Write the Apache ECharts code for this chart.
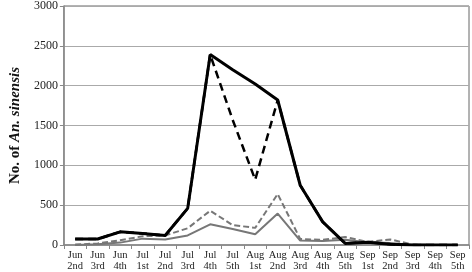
<!DOCTYPE html>
<html>
<head>
    <meta charset="utf-8">
    <script src="https://cdn.jsdelivr.net/npm/echarts@6/dist/echarts.min.js"></script>
    <style>
        html, body { margin: 0; padding: 0; background: #fff; }
    </style>
</head>
<body>
    <div id="main" style="width: 472px;height:272px;"></div>
    <script type="text/javascript">
        // week categories
        var weeks = ['Jun\n2nd', 'Jun\n3rd', 'Jun\n4th', 'Jul\n1st', 'Jul\n2nd', 'Jul\n3rd',
                     'Jul\n4th', 'Jul\n5th', 'Aug\n1st', 'Aug\n2nd', 'Aug\n3rd', 'Aug\n4th',
                     'Aug\n5th', 'Sep\n1st', 'Sep\n2nd', 'Sep\n3rd', 'Sep\n4th', 'Sep\n5th'];

        // values
        var blackSolid  = [75, 75, 165, 145, 120, 460, 2390, 2200, 2020, 1820, 750, 290, 20, 35, 10, 0, 0, 0];
        var blackDashed = [75, 75, 165, 145, 120, 460, 2390, 1570, 820, 1820, 750, 290, 20, 35, 10, 0, 0, 0];
        var grayDashed  = [5, 20, 60, 110, 120, 210, 430, 250, 215, 640, 75, 65, 100, 40, 70, 5, 0, 0];
        var graySolid   = [0, 10, 30, 80, 70, 120, 260, 200, 135, 395, 55, 50, 65, 35, 25, 0, 0, 0];

        var yTicks = [0, 500, 1000, 1500, 2000, 2500, 3000];

        var serif = '"Liberation Serif", "DejaVu Serif", serif';

        var option = {
            animation: false,
            backgroundColor: '#fff',
            grid: {
                left: 53,
                right: 3,
                top: 6,
                bottom: 26,
                show: true,
                borderColor: '#666',
                borderWidth: 1
            },
            xAxis: {
                type: 'category',
                boundaryGap: true,
                data: weeks,
                axisLine: {lineStyle: {color: '#888', width: 1.5}},
                axisTick: {show: true, length: 4, lineStyle: {color: '#888'}},
                axisLabel: {
                    color: '#222',
                    fontFamily: serif,
                    fontSize: 10.5,
                    lineHeight: 11,
                    margin: 5,
                    interval: 0
                },
                splitLine: {show: false}
            },
            yAxis: {
                type: 'value',
                min: yTicks[0],
                max: yTicks[yTicks.length - 1],
                interval: 500,
                name: '{a|No. of }{b|An. sinensis}',
                nameLocation: 'middle',
                nameGap: 36,
                nameTextStyle: {
                    rich: {
                        a: {fontFamily: serif, fontSize: 15, fontWeight: 'bold', color: '#111'},
                        b: {fontFamily: serif, fontSize: 15, fontWeight: 'bold', fontStyle: 'italic', color: '#111'}
                    }
                },
                axisLine: {show: true, lineStyle: {color: '#888', width: 1.5}},
                axisTick: {show: true, length: 4, lineStyle: {color: '#888'}},
                axisLabel: {
                    color: '#222',
                    fontFamily: serif,
                    fontSize: 12,
                    margin: 6,
                    formatter: function (v) { return String(v); }
                },
                splitLine: {show: true, lineStyle: {color: '#aaa', width: 1}}
            },
            series: [
                {
                    name: 'gray solid',
                    type: 'line',
                    data: graySolid,
                    symbol: 'none',
                    lineStyle: {color: '#777', width: 2}
                },
                {
                    name: 'gray dashed',
                    type: 'line',
                    data: grayDashed,
                    symbol: 'none',
                    lineStyle: {color: '#777', width: 2, type: [6, 3]}
                },
                {
                    name: 'black dashed',
                    type: 'line',
                    data: blackDashed,
                    symbol: 'none',
                    lineStyle: {color: '#000', width: 2.5, type: [8, 5]}
                },
                {
                    name: 'black solid',
                    type: 'line',
                    data: blackSolid,
                    symbol: 'none',
                    lineStyle: {color: '#000', width: 3}
                }
            ]
        };

        var myChart = echarts.init(document.getElementById('main'));
        myChart.setOption(option);
    </script>
</body>
</html>
